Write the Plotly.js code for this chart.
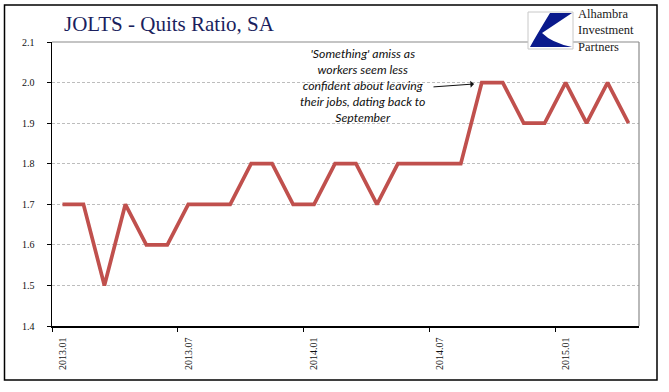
<!DOCTYPE html>
<html>
<head>
<meta charset="utf-8">
<script src="https://cdn.plot.ly/plotly-3.0.1.min.js"></script>
<style>html,body{margin:0;padding:0;background:#fff;}#chart{width:669px;height:392px;}</style>
</head>
<body>
<div id="chart"></div>
<script>
// Data
const months = ['2013.01','2013.02','2013.03','2013.04','2013.05','2013.06','2013.07','2013.08','2013.09','2013.10','2013.11','2013.12',
                '2014.01','2014.02','2014.03','2014.04','2014.05','2014.06','2014.07','2014.08','2014.09','2014.10','2014.11','2014.12',
                '2015.01','2015.02','2015.03','2015.04'];
const quitsRatio = [1.7,1.7,1.5,1.7,1.6,1.6,1.7,1.7,1.7,1.8,1.8,1.7,
                    1.7,1.8,1.8,1.7,1.8,1.8,1.8,1.8,2.0,2.0,1.9,1.9,
                    2.0,1.9,2.0,1.9];
const yTicks = [1.4,1.5,1.6,1.7,1.8,1.9,2.0,2.1];
const logoLines = ['Alhambra','Investment','Partners'];

// Layout geometry (pixels)
const W = 669, H = 392;
const L = 52, R = 639, T = 42, B = 326;
const px = x => (x - L) / (R - L);
const py = y => (B - y) / (B - T);
const path = pts => pts.map(p => (p[0] === 'Z' ? 'Z' : p[0] + ' ' + px(p[1]).toFixed(4) + ',' + py(p[2]).toFixed(4) + (p.length > 3 ? ' ' + px(p[3]).toFixed(4) + ',' + py(p[4]).toFixed(4) : ''))).join(' ');

const trace = {
  x: months, y: quitsRatio, type: 'scatter', mode: 'lines',
  line: {color: '#C0504D', width: 3.7}, hoverinfo: 'x+y'
};

const logoPath = path([['M',550,13],['L',572,13],['L',542,33],['Q',552,43,572,47],['L',530,47],['Q',536,36,550,13],['Z']]);

const serif = 'Liberation Serif, Times New Roman, serif';
const annotations = [
  {xref: 'paper', yref: 'paper', x: px(62), y: py(24), xanchor: 'left', yanchor: 'middle', showarrow: false,
   text: 'JOLTS - Quits Ratio, SA', font: {family: serif, size: 21, color: '#1b1f5e'}},
  {xref: 'paper', yref: 'paper', x: px(362), y: py(85), xanchor: 'center', yanchor: 'middle', showarrow: false, align: 'center',
   text: "<i>'Something' amiss as<br>workers seem less<br>confident about leaving<br>their jobs, dating back to<br>September</i>",
   font: {family: 'Lato, Open Sans, sans-serif', size: 12.3, color: '#111'}},
  {xref: 'paper', yref: 'paper', x: px(474), y: py(84), ax: px(432), ay: py(87), axref: 'paper', ayref: 'paper',
   text: '', showarrow: true, arrowhead: 1, arrowsize: 1.2, arrowwidth: 1, arrowcolor: '#111'},
  {xref: 'paper', yref: 'paper', x: px(576), y: py(31), xanchor: 'left', yanchor: 'middle', showarrow: false, align: 'left',
   text: logoLines.join('<br>'), font: {family: serif, size: 12.5, color: '#1a1a1a'}}
];

const layout = {
  width: W, height: H,
  margin: {l: L, r: W - R, t: T, b: H - B, pad: 0},
  paper_bgcolor: '#ffffff', plot_bgcolor: '#ffffff',
  showlegend: false,
  xaxis: {
    type: 'category', range: [-0.5, 27.5], autorange: false,
    tickmode: 'linear', tick0: 0, dtick: 6, tickson: 'boundaries',
    ticks: 'outside', ticklen: 4, tickcolor: '#000', tickwidth: 1,
    tickangle: -90, ticklabelstandoff: 6,
    tickfont: {family: serif, size: 10, color: '#111'},
    showline: true, linecolor: '#000', linewidth: 1.5,
    showgrid: false, zeroline: false, fixedrange: true
  },
  yaxis: {
    range: [1.4, 2.1], autorange: false,
    tickmode: 'array', tickvals: yTicks, ticktext: yTicks.map(v => v.toFixed(1)),
    ticks: 'outside', ticklen: 4, tickcolor: '#000', tickwidth: 1,
    ticklabelstandoff: 10,
    tickfont: {family: serif, size: 10, color: '#111'},
    showline: true, linecolor: '#000', linewidth: 1.5,
    showgrid: true, gridcolor: '#bdbdbd', griddash: '3px,2px', gridwidth: 1,
    zeroline: false, fixedrange: true
  },
  shapes: [
    {type: 'line', xref: 'paper', yref: 'paper', x0: 0, x1: 1, y0: 1, y1: 1, line: {color: '#8a8a8a', width: 1.2}},
    {type: 'line', xref: 'paper', yref: 'paper', x0: 1, x1: 1, y0: 0, y1: 1, line: {color: '#8a8a8a', width: 1.2}},
    {type: 'rect', xref: 'paper', yref: 'paper', x0: px(4.5), x1: px(657), y0: py(380), y1: py(5), line: {color: '#000', width: 1.5}},
    {type: 'rect', xref: 'paper', yref: 'paper', x0: px(528), x1: px(573), y0: py(49), y1: py(12), fillcolor: '#ffffff', line: {color: '#c8c8c8', width: 1}},
    {type: 'path', xref: 'paper', yref: 'paper', path: logoPath, fillcolor: '#0a1a8c', line: {width: 0}}
  ],
  annotations: annotations
};

Plotly.newPlot('chart', [trace], layout, {displayModeBar: false, staticPlot: true});
</script>
</body>
</html>
